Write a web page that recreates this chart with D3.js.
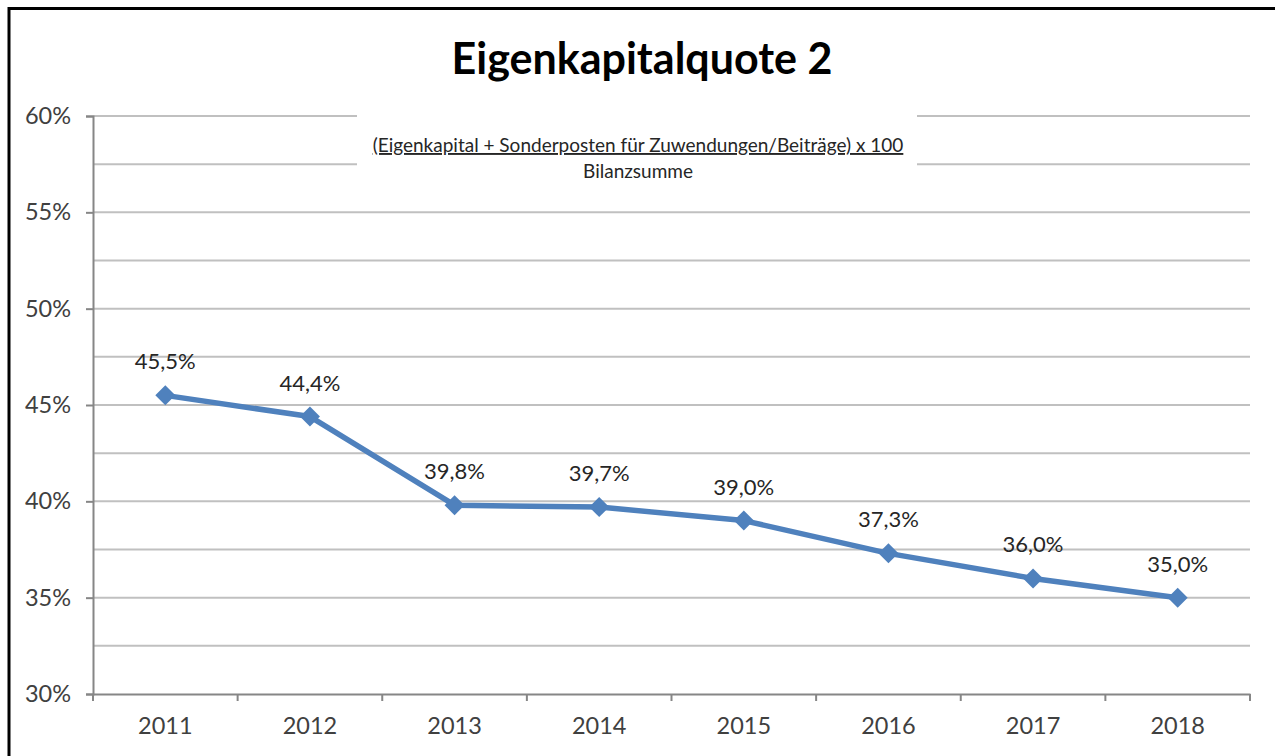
<!DOCTYPE html>
<html>
<head>
<meta charset="utf-8">
<script src="https://cdn.jsdelivr.net/npm/d3@7"></script>
<style>
  body { margin: 0; background: #fff; }
  text { font-family: Lato, "Open Sans", sans-serif; }
</style>
</head>
<body>
<script>
var years = ["2011", "2012", "2013", "2014", "2015", "2016", "2017", "2018"];
var quote = [45.5, 44.4, 39.8, 39.7, 39.0, 37.3, 36.0, 35.0];
var yTicks = [30, 35, 40, 45, 50, 55, 60];
var gridLines = [32.5, 35, 37.5, 40, 42.5, 45, 47.5, 50, 52.5, 55, 57.5, 60];

var width = 1275, height = 756;
var margin = {top: 116, right: 25, bottom: 62, left: 93};

var svg = d3.select("body").append("svg")
  .attr("width", width)
  .attr("height", height);

// outer frame
svg.append("rect")
  .attr("x", 9).attr("y", 8.5)
  .attr("width", 1400).attr("height", 900)
  .attr("fill", "none")
  .attr("stroke", "#000")
  .attr("stroke-width", 3);

var x = d3.scaleBand()
  .domain(years)
  .range([margin.left, width - margin.right]);

var y = d3.scaleLinear()
  .domain([30, 60])
  .range([height - margin.bottom, margin.top]);

// gridlines
svg.append("g").selectAll("line")
  .data(gridLines)
  .enter().append("line")
  .attr("x1", margin.left).attr("x2", width - margin.right)
  .attr("y1", function(d) { return y(d); })
  .attr("y2", function(d) { return y(d); })
  .attr("stroke", "#c0c0c0")
  .attr("stroke-width", 2);

// y axis
var yAxis = svg.append("g")
  .attr("transform", "translate(" + margin.left + ",0)")
  .call(d3.axisLeft(y).tickValues(yTicks).tickSize(7).tickPadding(15)
    .tickFormat(function(d) { return d + "%"; }));
yAxis.select(".domain").attr("stroke", "#868686").attr("stroke-width", 2);
yAxis.selectAll(".tick line").attr("stroke", "#868686").attr("stroke-width", 2);
yAxis.selectAll(".tick text")
  .attr("fill", "#404040")
  .style("font-size", "23.5px");

// x axis
var xAxis = svg.append("g")
  .attr("transform", "translate(0," + y(30) + ")")
  .call(d3.axisBottom(x).tickSize(0).tickPadding(23));
xAxis.select(".domain").attr("stroke", "#868686").attr("stroke-width", 2);
xAxis.selectAll(".tick text")
  .attr("fill", "#404040")
  .style("font-size", "23.5px");
// category boundary ticks
xAxis.append("g").selectAll("line")
  .data(years.concat(["end"]))
  .enter().append("line")
  .attr("x1", function(d, i) { return i < years.length ? x(d) : x.range()[1]; })
  .attr("x2", function(d, i) { return i < years.length ? x(d) : x.range()[1]; })
  .attr("y1", 0).attr("y2", 7)
  .attr("stroke", "#868686")
  .attr("stroke-width", 2);

// formula box
var fx = 638;
svg.append("rect")
  .attr("x", 357).attr("y", 106)
  .attr("width", 560).attr("height", 80)
  .attr("fill", "#fff");
svg.append("text")
  .attr("x", fx).attr("y", 152)
  .attr("text-anchor", "middle")
  .attr("fill", "#262626")
  .style("font-size", "19px")
  .style("text-decoration", "underline")
  .text("(Eigenkapital + Sonderposten für Zuwendungen/Beiträge) x 100");
svg.append("text")
  .attr("x", fx).attr("y", 178)
  .attr("text-anchor", "middle")
  .attr("fill", "#262626")
  .style("font-size", "19px")
  .text("Bilanzsumme");

// title
svg.append("text")
  .attr("x", 642).attr("y", 74)
  .attr("text-anchor", "middle")
  .attr("fill", "#000")
  .style("font-size", "43px")
  .style("font-weight", "bold")
  .text("Eigenkapitalquote 2");

var points = years.map(function(d, i) { return {year: d, value: quote[i]}; });
var cx = function(d) { return x(d.year) + x.bandwidth() / 2; };

// line
svg.append("path")
  .datum(points)
  .attr("fill", "none")
  .attr("stroke", "#4f81bd")
  .attr("stroke-width", 5.5)
  .attr("stroke-linejoin", "round")
  .attr("d", d3.line().x(cx).y(function(d) { return y(d.value); }));

// markers (square turned 45°)
svg.append("g").selectAll("path")
  .data(points)
  .enter().append("path")
  .attr("transform", function(d) { return "translate(" + cx(d) + "," + y(d.value) + ") rotate(45)"; })
  .attr("d", d3.symbol().type(d3.symbolSquare).size(200))
  .attr("fill", "#4f81bd");

// data labels
svg.append("g").selectAll("text")
  .data(points)
  .enter().append("text")
  .attr("x", cx)
  .attr("y", function(d) { return y(d.value) - 26; })
  .attr("text-anchor", "middle")
  .attr("fill", "#262626")
  .style("font-size", "22px")
  .text(function(d) { return d.value.toFixed(1).replace(".", ",") + "%"; });
</script>
</body>
</html>
